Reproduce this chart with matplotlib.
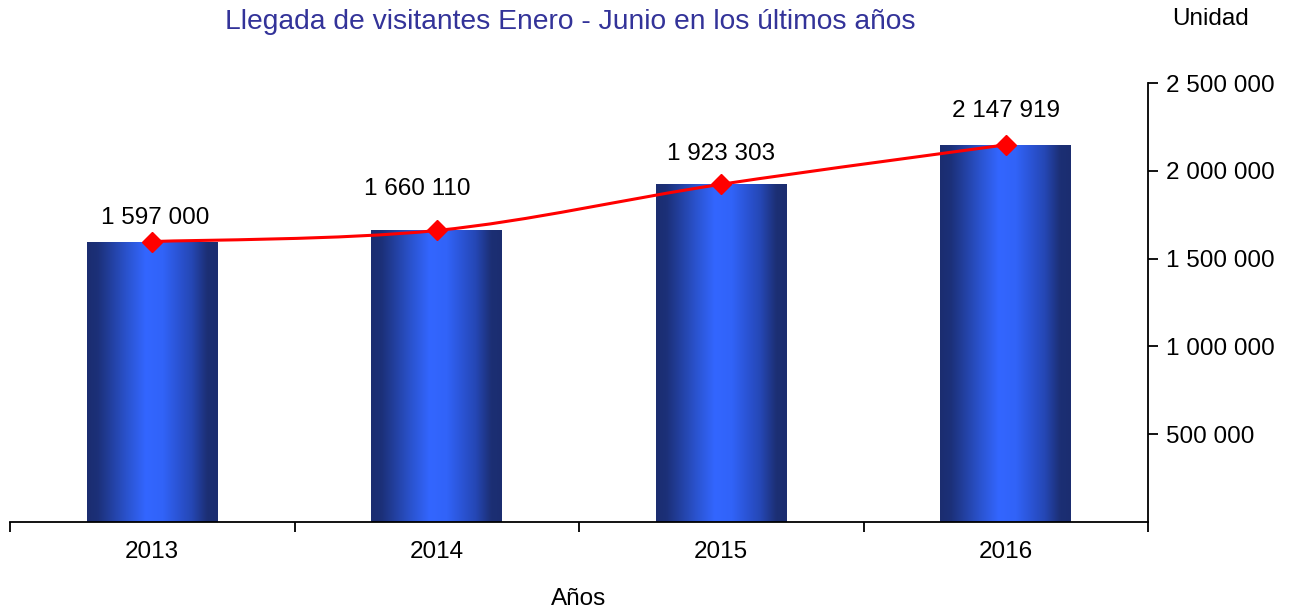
import numpy as np
import matplotlib
matplotlib.use('Agg')
import matplotlib.pyplot as plt
from matplotlib.path import Path
from matplotlib.patches import PathPatch
from matplotlib.colors import LinearSegmentedColormap
from matplotlib.ticker import FuncFormatter

plt.rcParams['font.family'] = ['Liberation Sans', 'DejaVu Sans']

years = ['2013', '2014', '2015', '2016']
visitors = [1597000, 1660110, 1923303, 2147919]
labels = ['1 597 000', '1 660 110', '1 923 303', '2 147 919']
# label offsets (points) to mimic original placement
label_dx = [2, -14, 0, 0]
label_dy = [17, 30, 22, 24]

fig = plt.figure(figsize=(12.89, 6.14), dpi=100)
ax = fig.add_axes([10/1289, 92/614, 1138/1289, 439/614])

x = np.arange(len(years))
bars = ax.bar(x, visitors, width=0.46, facecolor='none', edgecolor='none', zorder=2)

cmap = LinearSegmentedColormap.from_list(
    'bar', [(0, '#1b2d70'), (0.08, '#1c3078'), (0.3, '#2a52cc'), (0.45, '#3366ff'),
            (0.58, '#3163f8'), (0.8, '#2547b5'), (0.92, '#1c2f74'), (1, '#1b2d70')])
grad = np.linspace(0, 1, 256).reshape(1, -1)
for b in bars:
    x0, y0 = b.get_x(), b.get_y()
    im = ax.imshow(grad, cmap=cmap, aspect='auto', zorder=2,
                   extent=[x0, x0 + b.get_width(), y0, y0 + b.get_height()])
    im.set_clip_path(b)

# smooth line (Catmull-Rom to Bezier)
pts = np.column_stack([x, visitors]).astype(float)
verts = [pts[0]]
codes = [Path.MOVETO]
n = len(pts)
for i in range(n - 1):
    p0 = pts[i - 1] if i > 0 else pts[i]
    p1 = pts[i]
    p2 = pts[i + 1]
    p3 = pts[i + 2] if i + 2 < n else pts[i + 1]
    c1 = p1 + (p2 - p0) / 6.0
    c2 = p2 - (p3 - p1) / 6.0
    verts += [c1, c2, p2]
    codes += [Path.CURVE4] * 3
ax.add_patch(PathPatch(Path(verts, codes), facecolor='none', edgecolor='#ff0000', lw=2.2, zorder=3))
ax.plot(x, visitors, linestyle='none', marker='D', markersize=10, color='#ff0000', zorder=4)

for xi, v, lab, dx, dy in zip(x, visitors, labels, label_dx, label_dy):
    ax.annotate(lab, (xi, v), xytext=(dx, dy), textcoords='offset points',
                ha='center', va='center', fontsize=17.5, color='black')

ax.set_xlim(-0.5, 3.5)
ax.set_ylim(0, 2500000)

ax.spines['left'].set_visible(False)
ax.spines['top'].set_visible(False)
ax.spines['bottom'].set_linewidth(1.3)
ax.spines['right'].set_linewidth(1.3)

ax.set_xticks(x)
ax.set_xticklabels(years, fontsize=17.5)
ax.set_xticks(np.arange(-0.5, 4, 1), minor=True)
ax.tick_params(axis='x', which='major', length=0, pad=14)
ax.tick_params(axis='x', which='minor', length=7, width=1.3, direction='out')

ax.yaxis.tick_right()
ax.set_yticks([500000, 1000000, 1500000, 2000000, 2500000])
ax.yaxis.set_major_formatter(FuncFormatter(lambda v, p: f'{int(v):,}'.replace(',', ' ')))
ax.tick_params(axis='y', which='major', length=7, width=1.3, direction='out', labelsize=17.5, pad=6)

ax.set_xlabel('Años', fontsize=17.5, labelpad=18)

fig.text(570/1289, 1 - 22/614, 'Llegada de visitantes Enero - Junio en los últimos años',
         ha='center', va='center', fontsize=20.3, color='#333399')
fig.text(1210/1289, 1 - 19/614, 'Unidad', ha='center', va='center', fontsize=17.5)

fig.savefig('out.png', dpi=100)
